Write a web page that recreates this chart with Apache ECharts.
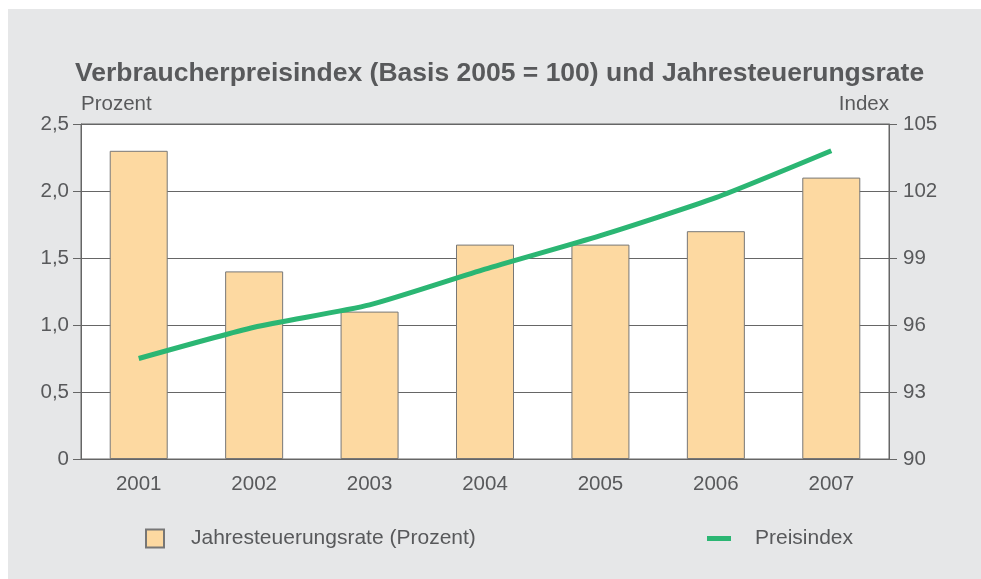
<!DOCTYPE html>
<html>
<head>
<meta charset="utf-8">
<script src="https://cdn.jsdelivr.net/npm/echarts@6/dist/echarts.min.js"></script>
<style>
  html, body { margin: 0; padding: 0; background: #fff; }
  #chart { position: absolute; left: 8px; top: 9px; width: 973px; height: 570px; }
</style>
</head>
<body>
<div id="chart"></div>
<script>
// Verbraucherpreisindex + Jahresteuerungsrate
const years = ["2001", "2002", "2003", "2004", "2005", "2006", "2007"];
const rate = [2.3, 1.4, 1.1, 1.6, 1.6, 1.7, 2.1];
const index = [94.5, 95.9, 96.9, 98.5, 100.0, 101.7, 103.8];

const font = "'Liberation Sans', Arial, sans-serif";
const grey = "#58595b";

const myChart = echarts.init(document.getElementById("chart"));

const option = {
  backgroundColor: "#e6e7e8",
  textStyle: { fontFamily: font },
  title: {
    text: "Verbraucherpreisindex (Basis 2005 = 100) und Jahresteuerungsrate",
    left: 67,
    top: 51,
    padding: 0,
    textStyle: { fontSize: 26.5, fontWeight: "bold", color: grey, fontFamily: font },
  },
  grid: {
    left: 73,
    right: 92,
    top: 115,
    bottom: 120,
    show: true,
    backgroundColor: "#fff",
    borderColor: "#666",
    borderWidth: 1,
  },
  legend: [
    {
      data: ["Jahresteuerungsrate (Prozent)"],
      left: 137,
      top: 519,
      padding: 0,
      icon: "rect",
      itemWidth: 18,
      itemHeight: 18,
      textStyle: { fontSize: 21, color: grey, padding: [0, 0, 0, 22] },
    },
    {
      data: ["Preisindex"],
      left: 699,
      top: 519,
      padding: 0,
      icon: "rect",
      itemWidth: 24,
      itemHeight: 5,
      textStyle: { fontSize: 21, color: grey, padding: [0, 0, 0, 19] },
    },
  ],
  xAxis: {
    type: "category",
    data: years,
    axisLine: { lineStyle: { color: "#666" } },
    axisTick: { show: false },
    axisLabel: { fontSize: 20.5, color: grey, margin: 15 },
  },
  yAxis: [
    {
      type: "value",
      name: "Prozent",
      nameLocation: "end",
      nameGap: 9,
      nameTextStyle: { fontSize: 20.5, color: grey, align: "left" },
      min: 0,
      max: 2.5,
      interval: 0.5,
      axisLine: { show: true, lineStyle: { color: "#666" } },
      axisTick: { show: true, length: 8, lineStyle: { color: "#666" } },
      axisLabel: {
        fontSize: 20.5,
        color: grey,
        margin: 12,
        formatter: (v) => (v === 0 ? "0" : v.toFixed(1).replace(".", ",")),
      },
      splitLine: { show: true, lineStyle: { color: "#666", width: 1 } },
    },
    {
      type: "value",
      name: "Index",
      nameLocation: "end",
      nameGap: 9,
      nameTextStyle: { fontSize: 20.5, color: grey, align: "right" },
      min: 90,
      max: 105,
      interval: 3,
      axisLine: { show: true, lineStyle: { color: "#666" } },
      axisTick: { show: true, length: 8, lineStyle: { color: "#666" } },
      axisLabel: { fontSize: 20.5, color: grey, margin: 14 },
      splitLine: { show: false },
    },
  ],
  series: [
    {
      name: "Jahresteuerungsrate (Prozent)",
      type: "bar",
      yAxisIndex: 0,
      barWidth: 58,
      data: rate,
      itemStyle: { color: "#fdd9a1", borderColor: "#777", borderWidth: 1 },
    },
    {
      name: "Preisindex",
      type: "line",
      yAxisIndex: 1,
      data: index,
      smooth: 0.2,
      showSymbol: false,
      lineStyle: { color: "#2bb673", width: 5 },
      itemStyle: { color: "#2bb673" },
    },
  ],
};

myChart.setOption(option);
</script>
</body>
</html>
